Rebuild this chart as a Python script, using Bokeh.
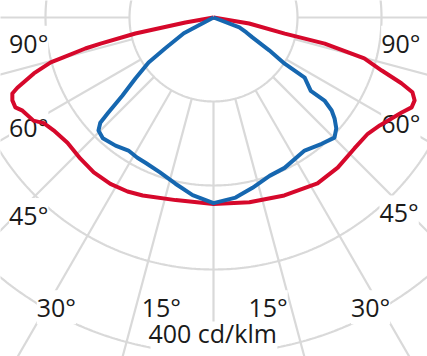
import numpy as np
from bokeh.plotting import figure
from bokeh.models import Label, Range1d
from bokeh.embed import file_html
from bokeh.resources import INLINE

# ---- data (angle in degrees from nadir, intensity in cd/klm) ----
red_angles = [-90, -79.9, -78.4, -77.0, -76.4, -75.1, -74.6, -72.7, -70.3, -69.3, -67.6, -65.6,
              -64.0, -60.2, -58.1, -54.8, -49.4, -43.3, -37.7, -31.8, -26.3, -21.7, -11.7, 0,
              11, 21.7, 32.1, 39.6, 47.1, 53.0, 57.0, 63.2, 65.6, 67.6, 69.4, 70.7, 72.5, 74.8,
              76.8, 77.3, 80.5, 90]
red_values = [0, 34, 95, 138, 157, 185, 201, 224, 248, 256, 259, 259,
              253, 247, 238, 233, 229, 231, 233, 233, 231, 228, 222, 222,
              224, 228, 233, 232, 229, 230, 236, 251, 259, 259, 253, 237, 210, 186,
              136, 87, 43, 0]

blue_angles = [-90, -62, -57.5, -55.3, -52.0, -49.4, -47.9, -47.1, -45.5, -42.5, -37.4, -32.6,
               -28.5, -25.1, -19.2, -12.9, -6.7, 0,
               7, 12.9, 19.5, 25.3, 34.4, 40.6, 45.2, 47.9, 50.1, 51.8, 53.2, 53.0, 56.6,
               57.0, 59.5, 62.9, 65.6, 69.0, 90]
blue_values = [0, 40, 68, 94, 118, 143, 169, 184, 192, 195, 192, 188,
               190, 191, 195, 203, 213, 221,
               216, 208, 200, 198, 192, 198, 203, 197, 188, 179, 165, 145, 130,
               101, 77, 52, 43, 33, 0]

ring_values = [100, 200, 300, 400, 500]
spoke_angles = list(range(0, 360, 15))
angle_labels = ["90°", "60°", "45°", "30°", "15°"]
unit_label = "400 cd/klm"


def polar(ang, val):
    a = np.radians(np.asarray(ang, dtype=float))
    v = np.asarray(val, dtype=float)
    return v * np.sin(a), -v * np.cos(a)


PX = 0.84  # pixels per cd/klm
p = figure(width=427, height=356, output_backend="svg", toolbar_location=None,
           x_range=Range1d(-213 / PX, 214 / PX), y_range=Range1d(-339 / PX, 17 / PX),
           x_axis_type=None, y_axis_type=None, min_border=0)
p.xgrid.visible = False
p.ygrid.visible = False
p.outline_line_color = None
p.background_fill_color = "white"
p.border_fill_color = "white"

GRID = "#d9d9d9"
# rings
t = np.linspace(0, 360, 721)
xs, ys = [], []
for r in ring_values:
    x, y = polar(t, np.full_like(t, r))
    xs.append(list(x)); ys.append(list(y))
p.multi_line(xs, ys, line_color=GRID, line_width=2.2, level="underlay")
# spokes (start at the first ring)
xs, ys = [], []
for a in spoke_angles:
    x, y = polar([a, a], [ring_values[0], 700])
    xs.append(list(x)); ys.append(list(y))
p.multi_line(xs, ys, line_color=GRID, line_width=2.2, level="underlay")

# white patch behind the unit label
p.quad(left=-75, right=76, top=-362, bottom=-430, fill_color="white",
       line_color=None, level="underlay")

# labels (x, y in cd/klm units)
DY = 13
lab_pos = [
    (0, -220, -43), (0, 223, -43),
    (1, -220, -143), (1, 223, -138),
    (2, -220, -248), (2, 221, -245),
    (3, -187, -358), (3, 187, -358),
    (4, -62, -358), (4, 65, -358),
]
for i, x, y in lab_pos:
    p.add_layout(Label(x=x, y=y + DY, text=angle_labels[i], text_align="center",
                       text_baseline="alphabetic", text_font="Open Sans",
                       text_font_size="25px", text_color="#1a1a1a",
                       background_fill_color="white", level="underlay"))
p.add_layout(Label(x=-1, y=-388 + DY, text=unit_label, text_align="center",
                   text_baseline="alphabetic", text_font="Open Sans",
                   text_font_size="25px", text_color="#1a1a1a", level="underlay"))

# curves
rx, ry = polar(red_angles, red_values)
p.line(rx, ry, line_color="#d6082b", line_width=4, line_join="round")
bx, by = polar(blue_angles, blue_values)
p.line(bx, by, line_color="#1667b0", line_width=4, line_join="round")

open("out.html", "w").write(file_html(p, INLINE))
